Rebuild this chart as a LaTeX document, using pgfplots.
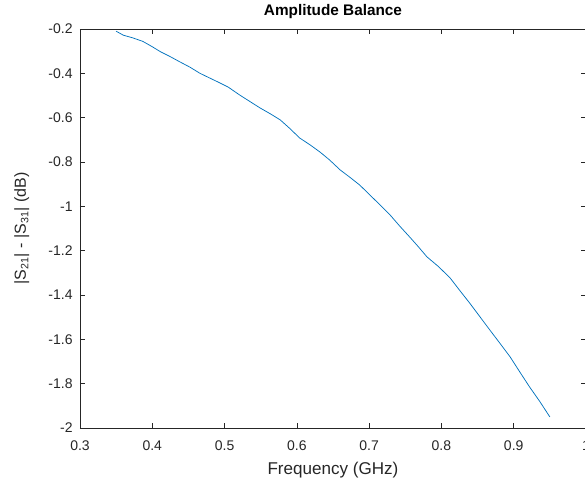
\documentclass[border=0pt]{standalone}
\usepackage{fontspec}
\setmainfont{Liberation Sans}
\usepackage{pgfplots}
\pgfplotsset{compat=1.18}
\definecolor{axGray}{RGB}{38,38,38}
\definecolor{mlBlue}{RGB}{0,114,189}

\begin{document}
\begin{tikzpicture}
\begin{axis}[
    scale only axis,
    width=379.5pt, height=299.25pt,
    xmin=0.3, xmax=1, ymin=-2, ymax=-0.2,
    xtick={0.3,0.4,...,1.0}, ytick={-2,-1.8,...,-0.2},
    tick pos=both, tick align=inside,
    major tick length=3.75pt,
    axis line style={axGray, line width=0.5pt},
    tick style={axGray, line width=0.5pt},
    /pgf/number format/assume math mode=true,
    tick label style={font=\fontsize{10.5pt}{12pt}\selectfont, text=axGray},
    xticklabel style={yshift=-6pt},
    yticklabel style={xshift=-2pt},
    title={\textbf{Amplitude Balance}},
    title style={font=\fontsize{11.5pt}{13pt}\selectfont, at={(axis description cs:0.5,1.043)}, anchor=center, yshift=-6pt},
    xlabel={Frequency (GHz)},
    ylabel={|S\textsubscript{21}| - |S\textsubscript{31}| (dB)},
    label style={text=axGray},
    xlabel style={font=\fontsize{12.8pt}{14pt}\selectfont, at={(axis description cs:0.5,-0.105)}, anchor=center},
    ylabel style={font=\fontsize{12pt}{13pt}\selectfont, at={(axis description cs:-0.115,0.5)}, anchor=center},
]
\addplot[color=mlBlue, line width=0.55pt] coordinates {
(0.350,-0.210) (0.360,-0.228) (0.373,-0.240) (0.387,-0.256) (0.400,-0.280)
(0.411,-0.302) (0.425,-0.325) (0.438,-0.348) (0.452,-0.372) (0.466,-0.400)
(0.480,-0.422) (0.494,-0.444) (0.505,-0.462) (0.521,-0.498) (0.535,-0.527)
(0.549,-0.556) (0.563,-0.582) (0.577,-0.610) (0.590,-0.648) (0.604,-0.692)
(0.618,-0.722) (0.632,-0.755) (0.645,-0.790) (0.660,-0.836) (0.673,-0.868)
(0.687,-0.904) (0.708,-0.971) (0.729,-1.039) (0.742,-1.088) (0.756,-1.138)
(0.768,-1.182) (0.780,-1.228) (0.796,-1.272) (0.812,-1.323) (0.825,-1.378)
(0.839,-1.436) (0.853,-1.497) (0.867,-1.558) (0.881,-1.618) (0.895,-1.679)
(0.909,-1.750) (0.922,-1.815) (0.936,-1.880) (0.950,-1.950)
};
\end{axis}
\pgfresetboundingbox
\path[use as bounding box] (-60pt,-43.5pt) rectangle (378.75pt,321pt);
\end{tikzpicture}
\end{document}
